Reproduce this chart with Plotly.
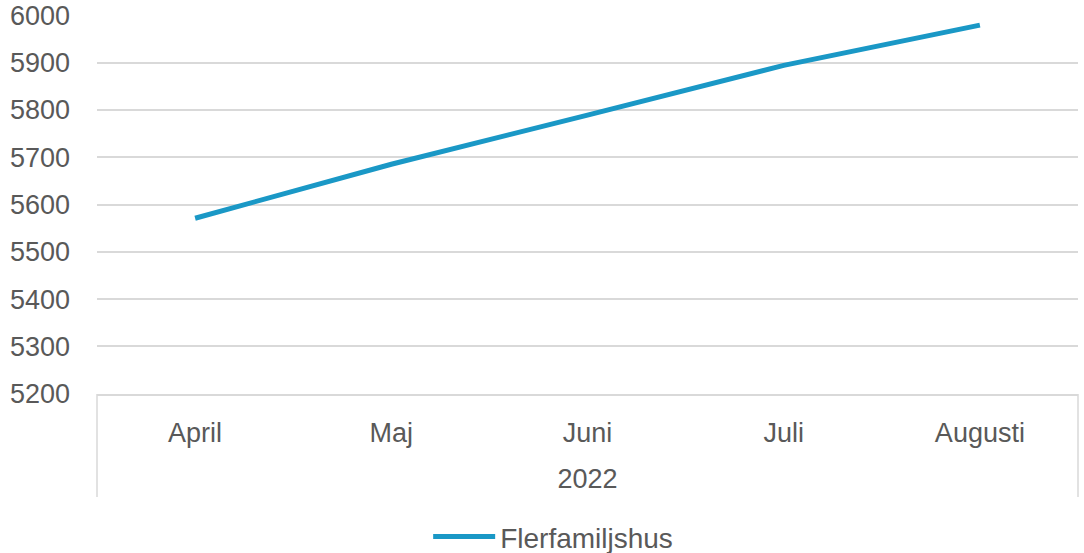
import plotly.graph_objects as go

year_label = "2022"
months = ["April", "Maj", "Juni", "Juli", "Augusti"]
values = [5571, 5685, 5789, 5894, 5979]
series_name = "Flerfamiljshus"

font_color = "#595959"
grid_color = "#d9d9d9"
line_color = "#1a98c6"
fs = 27

fig = go.Figure()
fig.add_trace(go.Scatter(
    x=months,
    y=values,
    mode="lines",
    name=series_name,
    line=dict(color=line_color, width=5),
))

# group box lines (left and right edges of the category axis group)
for xp in (0, 1):
    fig.add_shape(type="line", xref="paper", yref="paper",
                  x0=xp, x1=xp, y0=0, y1=-0.272,
                  line=dict(color=grid_color, width=1.5))

fig.update_layout(
    width=1084,
    height=553,
    margin=dict(l=97, r=6, t=15, b=159, autoexpand=False),
    paper_bgcolor="white",
    plot_bgcolor="white",
    font=dict(family="Liberation Sans, Arial, sans-serif", size=fs, color=font_color),
    showlegend=True,
    legend=dict(
        orientation="h",
        x=0.465,
        xanchor="center",
        y=-0.377,
        yanchor="middle",
        font=dict(size=28, color=font_color),
        itemwidth=62,
    ),
    xaxis=dict(
        type="category",
        range=[-0.5, 4.5],
        automargin=False,
        showgrid=False,
        showline=True,
        linecolor=grid_color,
        linewidth=1.5,
        ticks="",
        ticklabelstandoff=14,
        tickfont=dict(size=fs, color=font_color),
        title=dict(text=year_label, standoff=22, font=dict(size=fs, color=font_color)),
    ),
    yaxis=dict(
        range=[5199.5, 6000.5],
        dtick=100,
        tick0=5200,
        automargin=False,
        showgrid=True,
        gridcolor=grid_color,
        gridwidth=1.5,
        zeroline=False,
        showline=False,
        ticks="",
        ticklabelstandoff=26,
        ticklabeloverflow="allow",
        tickfont=dict(size=fs, color=font_color),
    ),
)

fig.write_html("out.html", config={"displayModeBar": False},
               post_script="document.body.style.margin='0';")
